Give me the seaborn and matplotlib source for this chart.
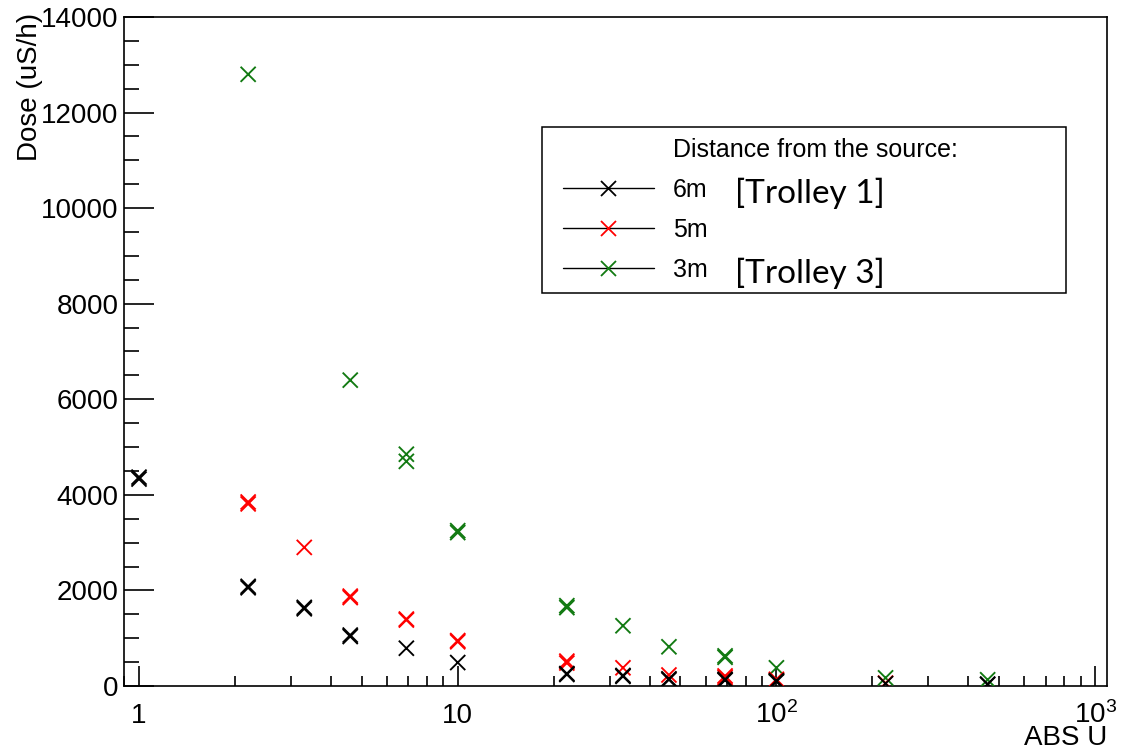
import numpy as np
import pandas as pd
import seaborn as sns
import matplotlib
matplotlib.use("Agg")
import matplotlib.pyplot as plt
from matplotlib.lines import Line2D
from matplotlib.legend_handler import HandlerLine2D
from matplotlib.ticker import FixedLocator, FixedFormatter, LogLocator, MultipleLocator, NullFormatter

# ---------------- data ----------------
abs_3m = [2.2, 4.6, 6.9, 6.9, 10, 10, 22, 22, 33, 46, 69, 69, 100, 220, 460]
dose_3m = [12800, 6400, 4850, 4700, 3210, 3250, 1640, 1680, 1260, 820, 600, 630, 380, 170, 130]

abs_5m = [2.2, 2.2, 3.3, 4.6, 4.6, 6.9, 6.9, 10, 10, 22, 22, 33, 46, 69, 69, 100, 100, 220]
dose_5m = [3810, 3850, 2900, 1850, 1880, 1380, 1400, 925, 950, 480, 520, 380, 230, 180, 210, 120, 140, 60]

abs_6m = [1, 1, 2.2, 2.2, 3.3, 3.3, 4.6, 4.6, 6.9, 10, 22, 22, 33, 33, 46, 46, 69, 69, 100, 100, 220, 460, 460]
dose_6m = [4330, 4370, 2055, 2085, 1615, 1645, 1035, 1065, 790, 490, 240, 260, 200, 220, 130, 150, 120, 140, 90, 110, 50, 40, 30]

series_names = ["3m", "5m", "6m"]
legend_order = ["6m", "5m", "3m"]
legend_title = "Distance from the source:"
annotations = {"6m": "[Trolley 1]", "3m": "[Trolley 3]"}
x_ticks = [1, 10, 100, 1000]
x_tick_labels = ["1", "10", r"$\mathregular{10^{2}}$", r"$\mathregular{10^{3}}$"]
y_ticks = [0, 2000, 4000, 6000, 8000, 10000, 12000, 14000]
colors = {"3m": "#127a12", "5m": "#ff0000", "6m": "#000000"}

df = pd.DataFrame({
    "ABS U": abs_3m + abs_5m + abs_6m,
    "Dose": dose_3m + dose_5m + dose_6m,
    "Distance": ["3m"] * len(abs_3m) + ["5m"] * len(abs_5m) + ["6m"] * len(abs_6m),
})

# ---------------- style ----------------
sns.set_theme(style="white")
plt.rcParams["font.family"] = ["Liberation Sans", "DejaVu Sans"]
plt.rcParams["mathtext.fontset"] = "custom"
plt.rcParams["mathtext.rm"] = "Liberation Sans"
plt.rcParams["mathtext.it"] = "Liberation Sans:italic"
plt.rcParams["axes.linewidth"] = 1.2
plt.rcParams["axes.edgecolor"] = "black"
plt.rcParams["text.color"] = "black"
plt.rcParams["axes.labelcolor"] = "black"
plt.rcParams["xtick.color"] = "black"
plt.rcParams["ytick.color"] = "black"
plt.rcParams["legend.labelcolor"] = "black"

fig = plt.figure(figsize=(11.27, 7.47), dpi=100)
ax = fig.add_axes([0.110, 0.0817, 0.8723, 0.8956])

sns.scatterplot(data=df, x="ABS U", y="Dose", hue="Distance", palette=colors,
                marker="x", s=118, linewidth=1.35, legend=False, ax=ax, zorder=3)

ax.set_xscale("log")
ax.set_xlim(0.897, 1090)
ax.set_ylim(0, 14000)

ax.xaxis.set_major_locator(FixedLocator(x_ticks))
ax.xaxis.set_major_formatter(FixedFormatter(x_tick_labels))
ax.xaxis.set_minor_locator(LogLocator(base=10, subs=np.arange(2, 10), numticks=20))
ax.xaxis.set_minor_formatter(NullFormatter())
ax.yaxis.set_major_locator(FixedLocator(y_ticks))
ax.yaxis.set_minor_locator(MultipleLocator(500))

ax.tick_params(axis="y", which="major", direction="in", length=21.6, width=1.2,
               labelsize=20, pad=4, left=True, right=False, colors="black")
ax.tick_params(axis="y", which="minor", direction="in", length=10.8, width=1.2,
               left=True, right=False)
ax.tick_params(axis="x", which="major", direction="in", length=14.4, width=1.2,
               labelsize=20, pad=26.5, bottom=True, top=False, colors="black")
ax.tick_params(axis="x", which="minor", direction="in", length=7.2, width=1.2,
               bottom=True, top=False)
for t in ax.xaxis.get_major_ticks():
    t.label1.set_verticalalignment("baseline")

for sp in ax.spines.values():
    sp.set_visible(True)
    sp.set_color("black")
    sp.set_linewidth(1.2)

ax.set_xlabel("ABS U", fontsize=20, loc="right", color="black")
ax.xaxis.set_label_coords(1.0, -0.088)
ax.xaxis.label.set_verticalalignment("baseline")
ax.set_ylabel("Dose (uS/h)", fontsize=20, loc="top", color="black")
ax.yaxis.set_label_coords(-0.082, 1.006)

# ---------------- legend ----------------
handles = [Line2D([], [], linestyle="none", marker=None)]
labels = [legend_title]
for name in legend_order:
    handles.append(Line2D([], [], color="black", lw=1.0, marker="x", markersize=10.8,
                          markeredgewidth=1.3, markeredgecolor=colors[name]))
    labels.append(name)

leg = ax.legend(handles, labels, loc="upper left",
                bbox_to_anchor=(0.4252, 0.5874, 0.5331, 0.2482), mode="expand",
                borderaxespad=0, borderpad=0.44, fontsize=18, handlelength=4.04,
                handletextpad=0.76, labelspacing=0.64, frameon=True, fancybox=False,
                edgecolor="black", framealpha=1, labelcolor="black",
                handler_map={Line2D: HandlerLine2D(xpad=0.40)})
leg.get_frame().set_linewidth(1.1)

ax.text(0.6216, 0.722, annotations["6m"], transform=ax.transAxes, fontsize=24,
        family=["Lato", "DejaVu Sans"], va="baseline", ha="left", color="black", zorder=6)
ax.text(0.6216, 0.6024, annotations["3m"], transform=ax.transAxes, fontsize=24,
        family=["Lato", "DejaVu Sans"], va="baseline", ha="left", color="black", zorder=6)

fig.savefig("out.png", dpi=100, facecolor="white")
